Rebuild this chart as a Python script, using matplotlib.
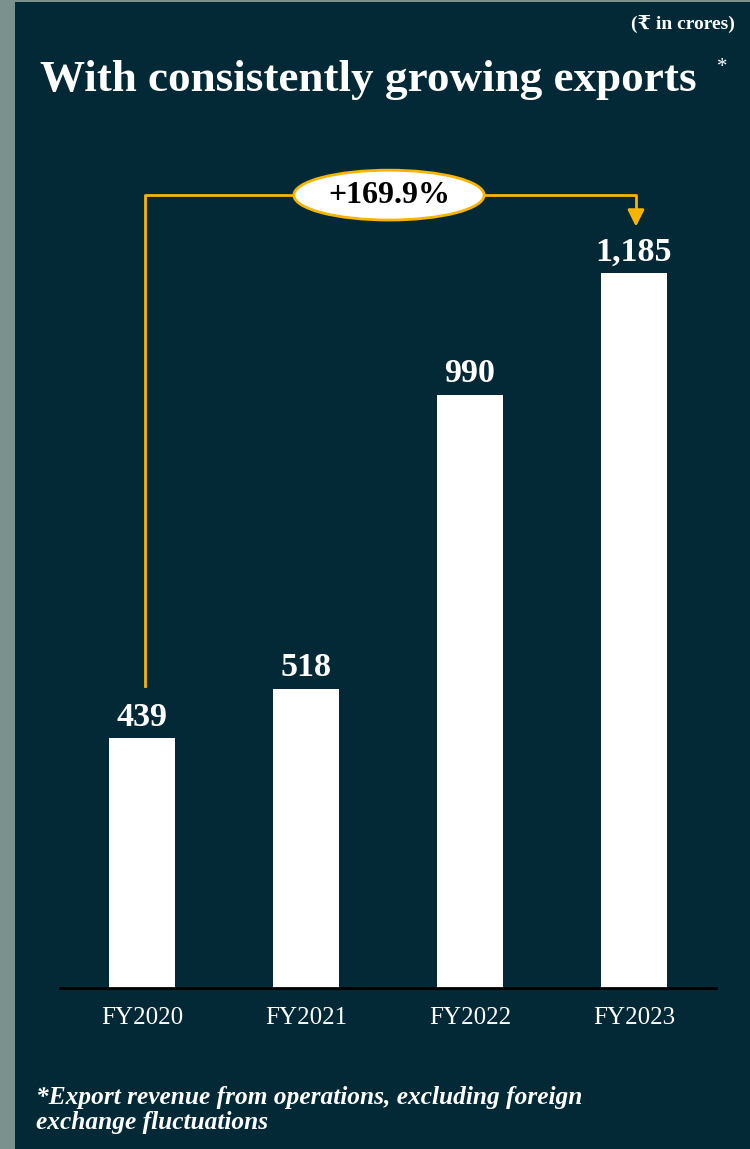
import matplotlib.pyplot as plt
from matplotlib.patches import Rectangle, Ellipse

years = ['FY2020', 'FY2021', 'FY2022', 'FY2023']
exports = [439, 518, 990, 1185]
labels = ['439', '518', '990', '1,185']
growth = '+169.9%'

bg = '#032936'
strip = '#7b918d'
gold = '#f7b500'
serif = ['Liberation Serif', 'DejaVu Serif']

fig = plt.figure(figsize=[7.5, 11.49], dpi=100)
fig.patch.set_facecolor(strip)
fig.patches.append(Rectangle((15 / 750, 0), 1, 1 - 2 / 1149, transform=fig.transFigure,
                             facecolor=bg, edgecolor='none', zorder=-5))

# axes: left 60px, width 656px, bottom at 988px from top
ax = fig.add_axes([60 / 750, (1149 - 988) / 1149, 656 / 750, 849 / 1149])
ax.set_facecolor('none')
x = list(range(len(years)))
ax.bar(x, exports, width=0.4, color='white', zorder=2)
ax.set_xlim(-0.5, 3.5)
ax.set_ylim(38, 1400)

for s in ['top', 'right', 'left']:
    ax.spines[s].set_visible(False)
ax.spines['bottom'].set_color('black')
ax.spines['bottom'].set_linewidth(2)
ax.set_yticks([])
ax.set_xticks(x)
ax.set_xticklabels(years, family=serif, fontsize=18, color='white')
ax.tick_params(axis='x', length=0, pad=14)

for i in x:
    ax.annotate(labels[i], (i, exports[i]), xytext=(0, 9), textcoords='offset points',
                ha='center', va='baseline', color='white', fontsize=24.5,
                fontweight='bold', family=serif)

# growth bracket
top = 1310
ax.plot([0.018, 0.018, 3.012, 3.012], [522, top, top, 1285], color=gold, lw=2,
        clip_on=False, zorder=3)
ax.annotate('', xy=(3.012, 1255), xytext=(3.012, 1290),
            arrowprops=dict(arrowstyle='-|>,head_length=1.0,head_width=0.5',
                            color=gold, lw=2), annotation_clip=False)
ax.add_patch(Ellipse((1.506, top), 1.16, 80, facecolor='white', edgecolor=gold,
                     lw=2, clip_on=False, zorder=4))
ax.text(1.506, top, growth, ha='center', va='center', fontsize=23, fontweight='bold',
        color='black', family=serif, zorder=5)

fig.text(735 / 750, 1 - 25 / 1149, '(₹ in crores)', ha='right', va='center',
         fontsize=14, fontweight='bold', color='white', family=serif)
fig.text(40 / 750, 1 - 80 / 1149, 'With consistently growing exports', ha='left',
         va='center', fontsize=32.5, fontweight='bold', color='white', family=serif)
fig.text(717 / 750, 1 - 68 / 1149, '*', ha='left', va='center',
         fontsize=15, color='white', family=serif)
fig.text(36 / 750, 1 - 1110 / 1149,
         '*Export revenue from operations, excluding foreign\nexchange fluctuations',
         ha='left', va='center', fontsize=18.3, fontweight='bold', style='italic',
         color='white', family=serif, linespacing=1.15)

fig.savefig('out.png', dpi=100, facecolor=fig.get_facecolor())
